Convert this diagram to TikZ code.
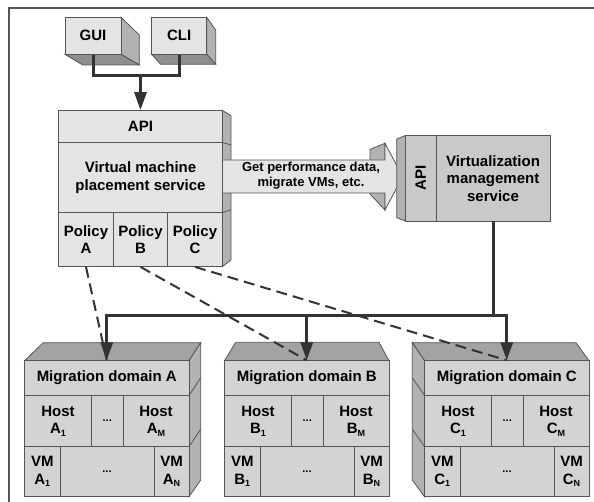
\documentclass[tikz,border=0pt]{standalone}
\usepackage{fontspec}
\setmainfont{Liberation Sans}
\usepackage{xcolor}
\usepackage{tikz}
\usetikzlibrary{arrows.meta, calc}

\definecolor{lightface}{HTML}{E4E4E4}
\definecolor{midface}{HTML}{D3D3D3}
\definecolor{vmsface}{HTML}{C9C9C9}
\definecolor{sideface}{HTML}{B2B2B2}
\definecolor{topface}{HTML}{A3A3A3}
\definecolor{darkface}{HTML}{8F8F8F}
\definecolor{edge}{HTML}{555555}
\definecolor{wire}{HTML}{333333}

\newcommand{\labelfont}{\fontsize{15}{17.5}\selectfont\bfseries}
\newcommand{\arrowfont}{\fontsize{13}{15}\selectfont\bfseries}
\newcommand{\dotsfont}{\fontsize{11}{13}\selectfont\bfseries}
\newcommand{\idx}[1]{\raisebox{-0.35ex}{\fontsize{9}{9}\selectfont #1}}

\begin{document}
\begin{tikzpicture}[
    x=1pt, y=-1pt,
    cell/.style={draw=edge, line width=0.8pt, inner sep=0pt, align=center, font=\labelfont},
    lightbox/.style={cell, fill=lightface},
    midbox/.style={cell, fill=midface},
    sidebox/.style={draw=edge, fill=sideface, line width=0.8pt},
    topbox/.style={draw=edge, fill=topface, line width=0.8pt},
    bottombox/.style={draw=edge, fill=darkface, line width=0.8pt},
    wirebus/.style={draw=wire, line width=3pt},
    busarrow/.style={wirebus, -{Triangle[length=18pt, width=12pt]}},
    policyline/.style={draw=wire, line width=2pt, dash pattern=on 11pt off 6pt}
]
\useasboundingbox (0,0) rectangle (594,502);

% Outer frame
\draw[draw=edge, line width=1.5pt] (9,502) -- (9,8) -- (594,8);

% Front ends: GUI and CLI
\filldraw[sidebox] (121,17.3) -- (139.3,35) -- (139.3,65) -- (121,54.3) -- cycle;
\filldraw[bottombox] (65,54.3) -- (121,54.3) -- (139.3,65) -- (82.7,65) -- cycle;
\node[lightbox, minimum width=56pt, minimum height=37pt] (gui) at (93,35.8) {GUI};

\filldraw[sidebox] (206.7,17.3) -- (215.7,30) -- (215.7,64.3) -- (206.7,54.3) -- cycle;
\filldraw[bottombox] (151.7,54.3) -- (206.7,54.3) -- (215.7,64.3) -- (160.7,64.3) -- cycle;
\node[lightbox, minimum width=55pt, minimum height=37pt] (cli) at (179.2,35.8) {CLI};

% Placement service
\filldraw[sidebox] (222.5,110.5) -- (231,115.7) -- (231,260) -- (222.5,266.5) -- cycle;
\draw[draw=edge, line width=0.8pt] (222.5,142.5) -- (231,144.9);
\draw[draw=edge, line width=0.8pt] (222.5,212.5) -- (231,209.7);
\node[lightbox, minimum width=164pt, minimum height=32pt] (api) at (140.5,126.5) {API};
\node[lightbox, minimum width=164pt, minimum height=70pt] (vmps) at (140.5,177.5) {Virtual machine\\placement service};
\node[lightbox, minimum width=55pt, minimum height=54pt] (pa) at (86,239.5) {Policy\\A};
\node[lightbox, minimum width=54pt, minimum height=54pt] (pb) at (140.5,239.5) {Policy\\B};
\node[lightbox, minimum width=55pt, minimum height=54pt] (pc) at (195,239.5) {Policy\\C};

% Block arrow to the management service
\filldraw[draw=edge, fill=sideface, line width=0.8pt] (370,149.3) -- (385,143.3) -- (385,210) -- (370,194) -- cycle;
\filldraw[draw=edge, fill=lightface, line width=0.8pt] (222.5,160) -- (385,160) -- (385,143.3) -- (402.7,176.7)
    -- (385,210) -- (385,193) -- (222.5,193) -- cycle;
\node[font=\arrowfont, align=center, inner sep=0pt] (perf) at (311,176) {Get performance data,\\migrate VMs, etc.};

% Virtualization management service
\filldraw[sidebox] (405.5,135.5) -- (396.7,139) -- (396.7,217.7) -- (405.5,221) -- cycle;
\node[cell, fill=vmsface, rotate=90, minimum width=85.5pt, minimum height=30.5pt] (vapi) at (420.75,178.25) {API};
\node[cell, fill=vmsface, minimum width=114pt, minimum height=85.5pt] (vms) at (493,178.25) {Virtualization\\management\\service};

% Migration domain A
\filldraw[topbox] (24.5,360.7) -- (43.3,342.7) -- (200.7,342.7) -- (189,360.7) -- cycle;
\filldraw[sidebox] (189,360.7) -- (200.7,342.7) -- (200.7,480) -- (189,496.7) -- cycle;
\draw[draw=edge, line width=0.8pt] (189,395.5) -- (200.7,377.8);
\draw[draw=edge, line width=0.8pt] (189,446.5) -- (200.7,429.3);
\node[midbox, minimum width=164.5pt, minimum height=34.8pt] (ta) at (106.75,378.1) {Migration domain A};
\node[midbox, minimum width=67pt, minimum height=51pt] (ha1) at (58,421) {Host\\A\idx{1}};
\node[midbox, minimum width=31.5pt, minimum height=51pt] (hadots) at (107.25,421) {\dotsfont ...};
\node[midbox, minimum width=66pt, minimum height=51pt] (ham) at (156,421) {Host\\A\idx{M}};
\node[midbox, minimum width=35.5pt, minimum height=50.2pt] (va1) at (42.25,471.6) {VM\\A\idx{1}};
\node[midbox, minimum width=94pt, minimum height=50.2pt] (vadots) at (107,471.6) {\dotsfont ...};
\node[midbox, minimum width=35pt, minimum height=50.2pt] (van) at (171.5,471.6) {VM\\A\idx{N}};

% Migration domain B
\filldraw[topbox] (224.5,360.7) -- (235.7,342.3) -- (379,342.3) -- (389,360.7) -- cycle;
\node[midbox, minimum width=164.5pt, minimum height=34.8pt] (tb) at (306.75,378.1) {Migration domain B};
\node[midbox, minimum width=67pt, minimum height=51pt] (hb1) at (258,421) {Host\\B\idx{1}};
\node[midbox, minimum width=31.5pt, minimum height=51pt] (hbdots) at (307.25,421) {\dotsfont ...};
\node[midbox, minimum width=66pt, minimum height=51pt] (hbm) at (356,421) {Host\\B\idx{M}};
\node[midbox, minimum width=35.5pt, minimum height=50.2pt] (vb1) at (242.25,471.6) {VM\\B\idx{1}};
\node[midbox, minimum width=94pt, minimum height=50.2pt] (vbdots) at (307,471.6) {\dotsfont ...};
\node[midbox, minimum width=35pt, minimum height=50.2pt] (vbn) at (371.5,471.6) {VM\\B\idx{N}};

% Migration domain C
\filldraw[topbox] (424.5,360.7) -- (412.3,342.7) -- (576,342.7) -- (589,360.7) -- cycle;
\filldraw[sidebox] (424.5,360.7) -- (412.3,342.7) -- (412.3,480) -- (424.5,496.7) -- cycle;
\draw[draw=edge, line width=0.8pt] (424.5,395.5) -- (412.3,377.8);
\draw[draw=edge, line width=0.8pt] (424.5,446.5) -- (412.3,429.3);
\node[midbox, minimum width=164.5pt, minimum height=34.8pt] (tc) at (506.75,378.1) {Migration domain C};
\node[midbox, minimum width=67pt, minimum height=51pt] (hc1) at (458,421) {Host\\C\idx{1}};
\node[midbox, minimum width=31.5pt, minimum height=51pt] (hcdots) at (507.25,421) {\dotsfont ...};
\node[midbox, minimum width=66pt, minimum height=51pt] (hcm) at (556,421) {Host\\C\idx{M}};
\node[midbox, minimum width=35.5pt, minimum height=50.2pt] (vc1) at (442.25,471.6) {VM\\C\idx{1}};
\node[midbox, minimum width=94pt, minimum height=50.2pt] (vcdots) at (507,471.6) {\dotsfont ...};
\node[midbox, minimum width=35pt, minimum height=50.2pt] (vcn) at (571.5,471.6) {VM\\C\idx{N}};

% GUI and CLI talk to the API
\coordinate (join) at (140.5,76);
\draw[wirebus] (gui.south) |- (join) -| (cli.south);
\draw[busarrow] (join) -- (api.north);

% Management service reaches every domain
\coordinate (hub) at (493,315.7);
\draw[wirebus] (vms.south) -- (hub);
\draw[busarrow] (hub) -| (ta.north);
\draw[busarrow] (hub) -| (tb.north);
\draw[busarrow] (hub) -| (tc.north);

% Policies apply to domains
\draw[policyline] (pa.south) -- (ta.north);
\draw[policyline] (pb.south) -- (tb.north);
\draw[policyline] (pc.south) -- (tc.north);

\end{tikzpicture}
\end{document}
